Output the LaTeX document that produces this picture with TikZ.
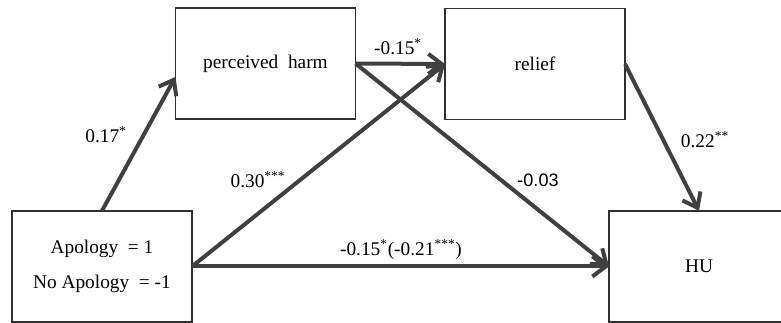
\documentclass[tikz,border=0pt]{standalone}
\usepackage{fontspec}
\setmainfont{Liberation Serif}
\setsansfont{Liberation Sans}
\usetikzlibrary{arrows.meta}
\definecolor{pathgray}{HTML}{404040}
\definecolor{boxgray}{HTML}{303030}
\tikzset{
  varbox/.style={draw=boxgray, line width=1.1pt, fill=white, inner sep=0pt, outer sep=0pt,
    minimum width=135pt, minimum height=83.5pt, align=center, font=\fontsize{14.5}{26}\selectfont},
  path/.style={draw=pathgray, line width=3pt, -{Straight Barb[length=10pt,width=15pt]}},
  coef/.style={font=\fontsize{14.5}{17}\selectfont}
}
\begin{document}
\begin{tikzpicture}[x=0.75pt,y=-0.75pt]
\useasboundingbox (0,0) rectangle (781,323);
\node[varbox] (apol) at (102,266.5) {Apology \ = 1\\No Apology \ = -1};
\node[varbox] (harm) at (265.5,63.5) {perceived \ harm};
\node[varbox] (relief) at (535,64) {relief};
\node[varbox] (hu) at (699,266.5) {HU};
\draw[path] (apol.north) -- ([yshift=-10pt]harm.west);
\draw[path] (harm.east) -- (relief.west);
\draw[path] (harm.east) -- (hu.west);
\draw[path] (apol.east) -- (relief.west);
\draw[path] (apol.east) -- (hu.west);
\draw[path] (relief.east) -- (hu.north);
\node[coef] (c1) at (106,135) {0.17\textsuperscript{*}};
\node[coef] (c2) at (398,47) {-0.15\textsuperscript{*}};
\node[coef] (c3) at (705,140) {0.22\textsuperscript{**}};
\node[coef] (c4) at (258,180) {0.30\textsuperscript{***}};
\node[coef,font=\sffamily\fontsize{13.5}{16}\selectfont] (c5) at (538,180) {-0.03};
\node[coef] (c6) at (401,250) {-0.15\textsuperscript{*}(-0.21\textsuperscript{***})};
\end{tikzpicture}
\end{document}
